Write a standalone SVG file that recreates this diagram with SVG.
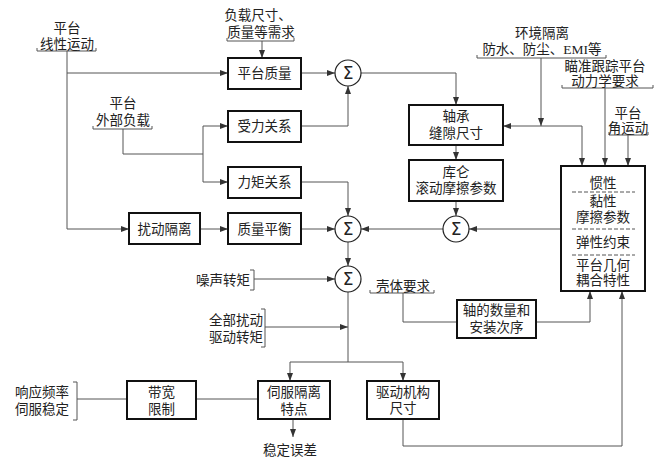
<svg xmlns="http://www.w3.org/2000/svg" width="660" height="466" viewBox="0 0 660 466">
<style>
text{font-family:"Liberation Serif","Noto Sans CJK SC",serif;font-size:13.5px;fill:#222;text-anchor:middle}
.box{fill:#fff;stroke:#111;stroke-width:2}
.sum{fill:#fff;stroke:#222;stroke-width:1.2}
.sig{font-family:"DejaVu Sans",sans-serif;font-size:17px}
.ln{fill:none;stroke:#555;stroke-width:1}
.ar{marker-end:url(#a)}
.br{fill:none;stroke:#555;stroke-width:1}
.dash{stroke:#555;stroke-width:1;stroke-dasharray:4,2}
.end{text-anchor:end}
</style>
<defs>
<marker id="a" markerUnits="userSpaceOnUse" markerWidth="8" markerHeight="6" refX="8" refY="3" orient="auto">
<path d="M0,0 L8,3 L0,6 z" fill="#333"/>
</marker>
</defs>
<rect width="660" height="466" fill="#fff"/>

<g id="connectors">
<path class="ln ar" d="M67,51 V229 H129"/>
<path class="ln ar" d="M67,73 H228"/>
<path class="ln ar" d="M262,41 V58"/>
<path class="ln ar" d="M301,73 H335"/>
<path class="ln" d="M123,129 V154 H203"/>
<path class="ln ar" d="M203,154 V126 H228"/>
<path class="ln ar" d="M203,154 V182 H228"/>
<path class="ln ar" d="M301,126 H348 V86"/>
<path class="ln ar" d="M301,182 H348 V216"/>
<path class="ln ar" d="M200,229 H228"/>
<path class="ln ar" d="M301,229 H335"/>
<path class="ln ar" d="M361,73 H456 V105"/>
<path class="ln ar" d="M456,145 V160"/>
<path class="ln ar" d="M456,201 V216"/>
<path class="ln ar" d="M561,229 H469"/>
<path class="ln ar" d="M443,229 H361"/>
<path class="ln ar" d="M541,58 V126"/>
<path class="ln ar" d="M541,126 H503"/>
<path class="ln ar" d="M541,126 H582 V166"/>
<path class="ln ar" d="M605,88 V166"/>
<path class="ln ar" d="M628,135 V166"/>
<path class="ln ar" d="M348,242 V266"/>
<path class="ln ar" d="M254,279 H335"/>
<path class="ln ar" d="M265,327 H348"/>
<path class="ln ar" d="M348,292 V362 H290 V381"/>
<path class="ln ar" d="M348,362 H403 V381"/>
<path class="ln ar" d="M293,419 V437"/>
<path class="ln" d="M196,399 H258"/>
<path class="ln" d="M77,399 H127"/>
<path class="ln ar" d="M403,419 V446 H622 V291"/>
<path class="ln" d="M403,293 V322 H457"/>
<path class="ln ar" d="M536,322 H590 V291"/>
</g>

<g id="label-linear">
<path class="br" d="M37,48 V51 H96 V48"/>
<text x="67" y="33">平台</text>
<text x="67" y="49">线性运动</text>
</g>
<g id="label-load">
<path class="br" d="M227,38 V41 H294 V38"/>
<text x="258" y="20">负载尺寸、</text>
<text x="261" y="37">质量等需求</text>
</g>
<g id="label-external">
<path class="br" d="M93,126 V129 H152 V126"/>
<text x="123" y="108">平台</text>
<text x="123" y="125">外部负载</text>
</g>
<g id="label-env">
<path class="br" d="M477,55 V58 H606 V55"/>
<text x="542" y="38">环境隔离</text>
<text x="542" y="54">防水、防尘、EMI等</text>
</g>
<g id="label-aim">
<path class="br" d="M562,85 V88 H653 V85"/>
<text x="605" y="71">瞄准跟踪平台</text>
<text x="605" y="86">动力学要求</text>
</g>
<g id="label-angular">
<path class="br" d="M609,132 V135 H648 V132"/>
<text x="628" y="118">平台</text>
<text x="628" y="133">角运动</text>
</g>
<g id="label-shell">
<path class="br" d="M370,290 V293 H434 V290"/>
<text x="403" y="291">壳体要求</text>
</g>
<g id="label-noise">
<path class="br" d="M250,270 H254 V290 H250"/>
<text class="end" x="250" y="285">噪声转矩</text>
</g>
<g id="label-total">
<path class="br" d="M261,309 H265 V347 H261"/>
<text class="end" x="263" y="325">全部扰动</text>
<text class="end" x="263" y="342">驱动转矩</text>
</g>
<g id="label-response">
<path class="br" d="M73,382 H77 V420 H73"/>
<text x="42" y="397">响应频率</text>
<text x="42" y="414">伺服稳定</text>
</g>
<g id="label-error">
<text x="290" y="455">稳定误差</text>
</g>

<g id="platform-mass">
<rect class="box" x="228" y="58" width="73" height="31"/>
<text x="264.5" y="78">平台质量</text>
</g>
<g id="force">
<rect class="box" x="228" y="111" width="73" height="31"/>
<text x="264.5" y="131">受力关系</text>
</g>
<g id="torque">
<rect class="box" x="228" y="167" width="73" height="31"/>
<text x="264.5" y="187">力矩关系</text>
</g>
<g id="isolation">
<rect class="box" x="129" y="213" width="71" height="31"/>
<text x="164.5" y="234">扰动隔离</text>
</g>
<g id="balance">
<rect class="box" x="228" y="213" width="73" height="31"/>
<text x="264.5" y="234">质量平衡</text>
</g>
<g id="bearing">
<rect class="box" x="409" y="105" width="94" height="40"/>
<text x="456" y="121">轴承</text>
<text x="456" y="138">缝隙尺寸</text>
</g>
<g id="coulomb">
<rect class="box" x="409" y="160" width="94" height="41"/>
<text x="456" y="177">库仑</text>
<text x="456" y="193">滚动摩擦参数</text>
</g>
<g id="properties">
<rect class="box" x="561" y="166" width="84" height="125"/>
<text x="603" y="188">惯性</text>
<line class="dash" x1="572" y1="192" x2="635" y2="192"/>
<text x="603" y="206">黏性</text>
<text x="603" y="222">摩擦参数</text>
<line class="dash" x1="572" y1="229" x2="635" y2="229"/>
<text x="603" y="247">弹性约束</text>
<line class="dash" x1="572" y1="255" x2="635" y2="255"/>
<text x="603" y="270">平台几何</text>
<text x="603" y="285">耦合特性</text>
</g>
<g id="axes">
<rect class="box" x="457" y="300" width="79" height="38"/>
<text x="496.5" y="315">轴的数量和</text>
<text x="496.5" y="332">安装次序</text>
</g>
<g id="bandwidth">
<rect class="box" x="127" y="381" width="69" height="38"/>
<text x="161.5" y="397">带宽</text>
<text x="161.5" y="414">限制</text>
</g>
<g id="servo">
<rect class="box" x="258" y="381" width="72" height="38"/>
<text x="294" y="397">伺服隔离</text>
<text x="294" y="414">特点</text>
</g>
<g id="drive">
<rect class="box" x="367" y="381" width="72" height="38"/>
<text x="403" y="397">驱动机构</text>
<text x="403" y="413">尺寸</text>
</g>

<g id="sum1">
<circle class="sum" cx="348" cy="73" r="13"/>
<text class="sig" x="348" y="79">Σ</text>
</g>
<g id="sum2">
<circle class="sum" cx="348" cy="229" r="13"/>
<text class="sig" x="348" y="235">Σ</text>
</g>
<g id="sum3">
<circle class="sum" cx="456" cy="229" r="13"/>
<text class="sig" x="456" y="235">Σ</text>
</g>
<g id="sum4">
<circle class="sum" cx="348" cy="279" r="13"/>
<text class="sig" x="348" y="285">Σ</text>
</g>
</svg>
